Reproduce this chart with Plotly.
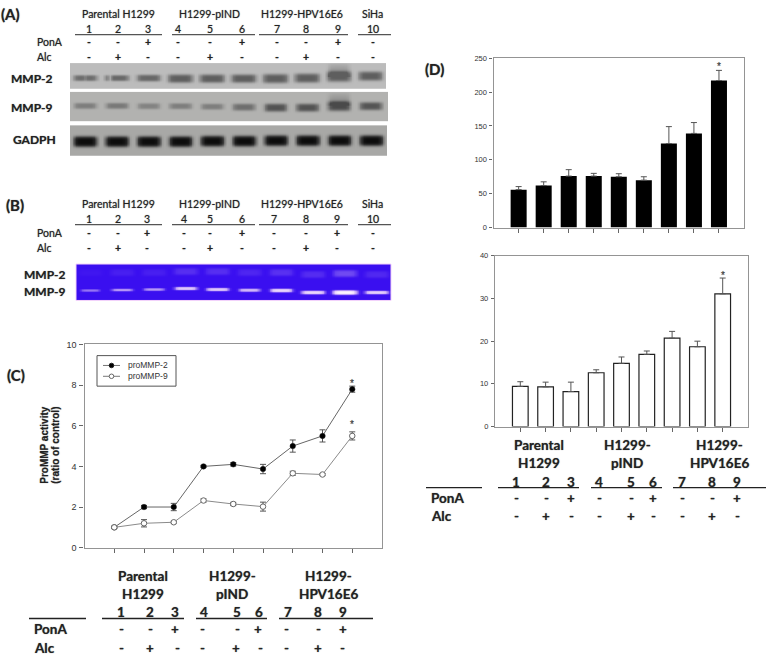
import numpy as np
import plotly.graph_objects as go

W, H = 770, 661

# ---------- chart data ----------
POS = [1, 2, 3, 4, 5, 6, 7, 8, 9]
C_MMP2 = [1, 2, 2, 4, 4.1, 3.87, 5, 5.5, 7.8]
C_MMP2_ERR = [0.05, 0.08, 0.18, 0.05, 0.08, 0.23, 0.3, 0.3, 0.15]
C_MMP9 = [1, 1.2, 1.25, 2.32, 2.15, 2.02, 3.66, 3.6, 5.5]
C_MMP9_ERR = [0.05, 0.18, 0.05, 0.08, 0.08, 0.22, 0.1, 0.05, 0.2]
D_TOP = [56, 62, 76, 76, 75, 70, 124, 139, 217]
D_TOP_ERR = [4.5, 5.5, 9.5, 4, 4.5, 5, 25, 16, 15]
D_BOT = [9.4, 9.3, 8.2, 12.6, 14.8, 16.9, 20.7, 18.7, 31.1]
D_BOT_ERR = [1.1, 1.1, 2.2, 0.7, 1.5, 0.8, 1.6, 1.3, 3.7]

# ---------- gel lane readings (relative band strength per lane) ----------
LANES = list(range(1, 11))
A_MMP2 = [.85, .90, .90, 1.0, 1.0, 1.0, 1.0, 1.0, 1.0, 1.0]
A_MMP9 = [.50, .55, .45, .50, .50, .65, .92, .92, 1.0, .90]
A_GADPH = [1, 1, 1, 1, 1, 1, 1, 1, 1, 1]
B_MMP9 = [.42, .55, .55, .78, .78, .68, .85, .85, 1.0, .82]
B_MMP2 = [.03, .07, .07, .14, .14, .10, .15, .13, .26, .11]

# ---------- labels ----------
PONA_SIGNS = ["-", "-", "+", "-", "-", "+", "-", "-", "+", "-"]
ALC_SIGNS = ["-", "+", "-", "-", "+", "-", "-", "+", "-", "-"]
NUMS = [str(i) for i in LANES]
GROUPS_WIDE = ["Parental H1299", "H1299-pIND", "H1299-HPV16E6", "SiHa"]
GROUPS_TWO = [("Parental", "H1299"), ("H1299-", "pIND"), ("H1299-", "HPV16E6")]
LEGEND_NAMES = ["proMMP-2", "proMMP-9"]

TXT = "#222222"
TABLE_FONT = "Lato"
ARIAL = "Liberation Sans"
SOFT = "0 0 1px rgba(0,0,0,0.55)"

fig = go.Figure()
annots, shapes = [], []


def px(x):
    return x / W


def py(y):
    return 1 - y / H


def text(x, y, s, size=11, bold=False, anchor="center", color=TXT, family=TABLE_FONT, angle=0, soft=True):
    f = dict(family=family, size=size, color=color, weight=700 if bold else 400)
    if soft:
        f["shadow"] = SOFT
    annots.append(dict(xref="paper", yref="paper", x=px(x), y=py(y), text=s, showarrow=False,
                       xanchor=anchor, yanchor="middle", textangle=angle, font=f,
                       borderpad=0, borderwidth=0))


def hline(x0, x1, y, color="#333333", width=1.4):
    shapes.append(dict(type="line", xref="paper", yref="paper", x0=px(x0), x1=px(x1), y0=py(y), y1=py(y),
                       line=dict(color=color, width=width)))


def star(xref, yref, x, y):
    annots.append(dict(xref=xref, yref=yref, x=x, y=y, text="*", showarrow=False, yanchor="middle",
                       font=dict(family=ARIAL, size=10, color="#333333", shadow="0 0 1px rgba(0,0,0,0.4)")))


AXN = [0]


def axes(x0, y0, x1, y1, xa, ya):
    AXN[0] += 1
    n = AXN[0]
    sx = "" if n == 1 else str(n)
    fig.layout["xaxis" + sx] = dict(domain=[px(x0), px(x1)], anchor="y" + sx, **xa)
    fig.layout["yaxis" + sx] = dict(domain=[py(y1), py(y0)], anchor="x" + sx, **ya)
    return "x" + sx, "y" + sx


def gel(x0, y0, x1, y1, xr, bands, colors, smear=None, split=None):
    xs = np.arange(xr[0], xr[1] + 0.001, 0.05)
    h = y1 - y0
    ys = np.arange(0, h + 0.01, 1.0)
    z = np.zeros((len(ys), len(xs)))
    for strengths, yc, hh, ww in bands:
        for i, lane in enumerate(LANES):
            dx = (xs - lane) / ww[i]
            dy = (ys + y0 - yc[i]) / hh[i]
            v = strengths[i] * np.exp(-np.abs(dy[:, None]) ** 3.5 - dx[None, :] ** 6)
            if split and lane in split:
                v = v * (1 - split[lane][1] * np.exp(-((xs - lane - split[lane][0]) / 0.06) ** 2))[None, :]
            z += v
    if smear:
        for lane, s, ytop, ybot, w in smear:
            dx = (xs - lane) / w
            prof = np.clip((ys + y0 - ytop) / (ybot - ytop), 0, 1)
            z += s * (prof[:, None] ** 0.7) * (ys + y0 < ybot + 2)[:, None] * np.exp(-dx[None, :] ** 6)
    z = np.round(np.clip(z, 0, 1), 3)
    xa_, ya_ = axes(x0, y0, x1, y1,
                    dict(range=list(xr), visible=False, fixedrange=True),
                    dict(range=[h, 0], visible=False, fixedrange=True))
    fig.add_trace(go.Heatmap(x=np.round(xs, 3).tolist(), y=ys.tolist(), z=z.tolist(), zmin=0, zmax=1, zsmooth="best",
                             colorscale=colors, showscale=False, hoverinfo="skip", xaxis=xa_, yaxis=ya_))


# ---------- gels ----------
gel(70, 59, 386, 85, (0.53, 10.5), [
    (A_MMP2, [73.5, 73.5, 73.5, 74, 74, 74, 74, 73.5, 72, 71.5],
     [3, 3, 3.4, 4.2, 4.2, 4.2, 4.6, 4.6, 5.2, 4.6], [.38, .38, .38, .40, .40, .40, .40, .40, .38, .38])],
    [[0, "#bcbcbc"], [1, "#5e5e5e"]],
    smear=[(9, .55, 58, 71, .34)], split={2: (-0.22, .75), 1: (0.0, .25)})
gel(70, 88, 388, 118, (0.53, 10.55), [
    (A_MMP9, [101.7, 101.7, 102, 102, 102.5, 103, 103.5, 103.5, 102, 102],
     [3, 3, 3, 3, 3, 3.5, 4, 4, 4.8, 4], [.36] * 10)],
    [[0, "#b2b2b0"], [1, "#4a4a4a"]],
    smear=[(9, .4, 88, 100, .34)])
gel(70, 122, 387, 153, (0.53, 10.5), [
    (A_GADPH, [138, 138, 138, 138, 137.5, 137.5, 137, 137, 137, 137],
     [5.2] * 10, [.37] * 10)],
    [[0, "#a8a8a6"], [.6, "#3c3c3c"], [1, "#0c0c0c"]])
gel(76, 263, 391, 300, (0.56, 10.46), [
    (B_MMP9, [289, 288.5, 288, 287, 288, 288.7, 289, 291, 291, 291],
     [1.3, 1.4, 1.4, 1.7, 1.7, 1.7, 1.9, 1.9, 2.3, 1.8], [.30, .34, .33, .36, .36, .34, .36, .38, .40, .38]),
    (B_MMP2, [271, 271, 271, 270, 270, 271, 271, 273, 272, 273],
     [3.5] * 10, [.38] * 10)],
    [[0, "#3a0ff0"], [.25, "#6e48f2"], [.6, "#c6a8f8"], [1, "#fff4ff"]])
shapes.append(dict(type="rect", xref="paper", yref="paper", x0=px(76), x1=px(391), y0=py(300), y1=py(263),
                   line=dict(color="#f2d0fb", width=1)))

# ---------- panel C ----------
FRAME = "#949494"
TICKF = dict(family=ARIAL, size=9, color="#333333")
xa = dict(range=[0, 10], tickmode="array", tickvals=POS, showticklabels=False, ticks="outside", ticklen=4,
          tickwidth=1, tickcolor="#666666", showgrid=False, zeroline=False, showline=True, mirror=True,
          linecolor=FRAME, linewidth=1.4, fixedrange=True)
ya = dict(tickmode="array", ticks="outside", ticklen=4, tickwidth=1, tickcolor="#666666", showgrid=False,
          zeroline=False, showline=True, mirror=True, linecolor=FRAME, linewidth=1.4, tickfont=TICKF,
          fixedrange=True, ticklabelstandoff=1)
cx, cy = axes(84.5, 344.7, 382, 551, xa, dict(ya, range=[0, 10], tickvals=[0, 2, 4, 6, 8, 10]))
fig.add_trace(go.Scatter(x=POS, y=C_MMP2, name=LEGEND_NAMES[0], mode="lines+markers", xaxis=cx, yaxis=cy,
                         showlegend=False, line=dict(color="#666666", width=1),
                         marker=dict(color="#000000", size=5.5, line=dict(color="#222222", width=0.5)),
                         error_y=dict(type="data", array=C_MMP2_ERR, color="#555555", thickness=1, width=3)))
fig.add_trace(go.Scatter(x=POS, y=C_MMP9, name=LEGEND_NAMES[1], mode="lines+markers", xaxis=cx, yaxis=cy,
                         showlegend=False, line=dict(color="#8a8a8a", width=1),
                         marker=dict(color="#ffffff", size=5.5, line=dict(color="#666666", width=1)),
                         error_y=dict(type="data", array=C_MMP9_ERR, color="#555555", thickness=1, width=3)))
star(cx, cy, 9, 8.1)
star(cx, cy, 9, 6.05)
text(44.5, 447, "ProMMP activity", size=10, bold=True, family=ARIAL, angle=-90)
text(55.5, 447, "(ratio of control)", size=10, bold=True, family=ARIAL, angle=-90)

# legend key, drawn to the box size of the original
shapes.append(dict(type="rect", xref="paper", yref="paper", x0=px(97), x1=px(176), y0=py(387), y1=py(356),
                   line=dict(color="#555555", width=1), fillcolor="white", layer="above"))
for y, fill, edge, name in [(366, "#000000", "#222222", LEGEND_NAMES[0]), (377, "#ffffff", "#666666", LEGEND_NAMES[1])]:
    shapes.append(dict(type="line", xref="paper", yref="paper", x0=px(103), x1=px(120), y0=py(y), y1=py(y),
                       line=dict(color="#777777", width=1), layer="above"))
    shapes.append(dict(type="circle", xref="paper", yref="paper", x0=px(109.2), x1=px(113.8), y0=py(y + 2.3),
                       y1=py(y - 2.3), fillcolor=fill, line=dict(color=edge, width=1), layer="above"))
    text(128, y, name, size=8.5, anchor="left", family=ARIAL, color="#333333", soft=False)

# ---------- panel D ----------
TICKD = dict(family=ARIAL, size=7.5, color="#333333")
d1x, d1y = axes(493.6, 54, 744, 226, xa, dict(ya, range=[0, 250], tickvals=[0, 50, 100, 150, 200, 250],
                                               tickfont=TICKD, ticklen=3))
fig.add_trace(go.Bar(x=POS, y=D_TOP, width=0.64, xaxis=d1x, yaxis=d1y, showlegend=False,
                     marker=dict(color="#000000", line=dict(width=0)),
                     error_y=dict(type="data", symmetric=False, array=D_TOP_ERR, arrayminus=[0] * 9,
                                  color="#555555", thickness=1, width=3)))
star(d1x, d1y, 9, 238)
d2x, d2y = axes(495, 254.7, 748, 428, xa, dict(ya, range=[0, 40], tickvals=[0, 10, 20, 30, 40],
                                               tickfont=TICKD, ticklen=3))
fig.add_trace(go.Bar(x=POS, y=D_BOT, width=0.62, xaxis=d2x, yaxis=d2y, showlegend=False,
                     marker=dict(color="#ffffff", line=dict(color="#222222", width=1.2)),
                     error_y=dict(type="data", symmetric=False, array=D_BOT_ERR, arrayminus=[0] * 9,
                                  color="#555555", thickness=1, width=3)))
star(d2x, d2y, 9, 35.5)

# ---------- panel letters ----------
for (x, y, s) in [(10, 9, "(A)"), (15, 203, "(B)"), (16, 376, "(C)"), (434, 65, "(D)")]:
    text(x, y, s, size=15, bold=True)

# ---------- panels A and B header tables ----------
SMALL = 10.5
GX = [118, 210, 302, 372]
for x, s in zip(GX, GROUPS_WIDE):
    text(x, 9, s, SMALL)
    text(x, 202, s, SMALL)
A_NUM_X = [89, 118, 148, 178, 210, 242, 277, 306, 338, 373]
B_NUM_X = [89, 118, 147, 184, 210, 242, 274, 306, 337, 373]
for xs_, ys_ in [(A_NUM_X, (24, 38, 53)), (B_NUM_X, (217, 232, 247))]:
    for x, n, p, a in zip(xs_, NUMS, PONA_SIGNS, ALC_SIGNS):
        text(x, ys_[0], n, SMALL)
        text(x, ys_[1], p, SMALL, bold=True)
        text(x, ys_[2], a, SMALL, bold=True)
for y in (30, 223):
    for a, b in [(75, 162), (172, 255), (259, 348), (358, 391)]:
        hline(a, b, y, color="#555555", width=1.2)
for y0 in (38, 232):
    text(37, y0, "PonA", SMALL, anchor="left")
    text(37, y0 + 15, "Alc", SMALL, anchor="left")
text(11, 75, "MMP-2", 12, bold=True, anchor="left")
text(11, 104, "MMP-9", 12, bold=True, anchor="left")
text(13, 137, "GADPH", 12, bold=True, anchor="left")
text(24, 274, "MMP-2", 12, bold=True, anchor="left")
text(24, 291, "MMP-9", 12, bold=True, anchor="left")

# ---------- panel C and D footer tables ----------
BIG = 13.5
C_NUM_X = [121, 150, 175, 204, 237, 259, 288, 318, 343]
C_PON_X = [121, 150, 175, 203, 237, 258, 286, 318, 343]
C_ALC_X = [121, 150, 177, 203, 236, 260, 286, 318, 342]
for x, (a, b) in zip([143, 232, 328], GROUPS_TWO):
    text(x, 580, a, BIG, bold=True)
    text(x, 598, b, BIG, bold=True)
for x, xp, xa_, n, p, a in zip(C_NUM_X, C_PON_X, C_ALC_X, NUMS, PONA_SIGNS, ALC_SIGNS):
    text(x, 616, n, BIG, bold=True)
    text(xp, 634, p, BIG, bold=True)
    text(xa_, 653, a, BIG, bold=True)
for a, b in [(29, 86), (102, 184), (196, 267), (279, 373)]:
    hline(a, b, 623, color="#222222", width=1.4)
text(34, 634, "PonA", BIG, bold=True, anchor="left")
text(34, 653, "Alc", BIG, bold=True, anchor="left")

D_NUM_X = [516, 546, 571, 599, 631, 653, 682, 712, 737]
for x, (a, b) in zip([539, 627, 719], GROUPS_TWO):
    text(x, 447, a, BIG, bold=True)
    text(x, 465, b, BIG, bold=True)
for x, n, p, a in zip(D_NUM_X, NUMS, PONA_SIGNS, ALC_SIGNS):
    text(x, 484, n, BIG, bold=True)
    text(x, 501, p, BIG, bold=True)
    text(x, 519, a, BIG, bold=True)
for a, b in [(426, 482), (498, 579), (591, 662), (673, 766)]:
    hline(a, b, 490, color="#222222", width=1.4)
text(431, 501, "PonA", BIG, bold=True, anchor="left")
text(431, 519, "Alc", BIG, bold=True, anchor="left")

fig.update_layout(
    width=W, height=H, margin=dict(l=0, r=0, t=0, b=0), paper_bgcolor="white", plot_bgcolor="white",
    annotations=annots, shapes=shapes, showlegend=False, bargap=0.36,
)
fig.write_html("out.html", config=dict(displayModeBar=False),
               post_script="document.body.style.margin='0';")
